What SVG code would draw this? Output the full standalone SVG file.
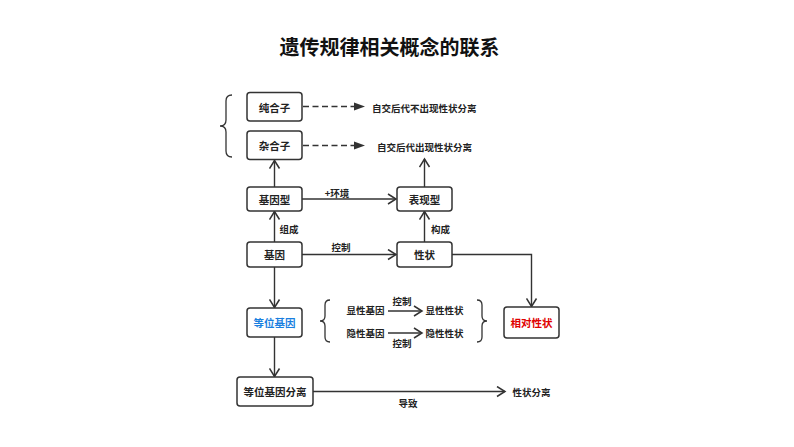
<svg xmlns="http://www.w3.org/2000/svg" width="794" height="447" viewBox="0 0 794 447">
<style>
text{font-family:"Noto Sans CJK SC","Liberation Sans",sans-serif;fill:#222;dominant-baseline:central;text-anchor:middle}
.t{font-size:20px;font-weight:bold;fill:#111}
.b{font-size:10.5px;font-weight:bold}
.s{font-size:9.5px;font-weight:bold}
.box{fill:#fff;stroke:#333;stroke-width:1.5}
.c{fill:none;stroke:#333;stroke-width:1.4}
.d{fill:none;stroke:#333;stroke-width:1.6;stroke-dasharray:6 3.5}
.br{fill:none;stroke:#333;stroke-width:1.3}
</style>
<defs>
<marker id="a" viewBox="-10 -6 12 12" refX="0" refY="0" markerWidth="12" markerHeight="12" markerUnits="userSpaceOnUse" orient="auto">
<path d="M-8,-5 L0,0 L-8,5" fill="none" stroke="#333" stroke-width="1.5"/>
</marker>
<marker id="f" viewBox="0 -5 12 10" refX="0" refY="0" markerWidth="12" markerHeight="10" markerUnits="userSpaceOnUse" orient="auto">
<path d="M0,-4 L11,0 L0,4 Z" fill="#333"/>
</marker>
</defs>
<text class="t" x="389.5" y="46">遗传规律相关概念的联系</text>
<g id="connectors">
<line class="d" x1="303" y1="106.5" x2="354" y2="106.5" marker-end="url(#f)"/>
<line class="d" x1="303" y1="145.5" x2="354" y2="145.5" marker-end="url(#f)"/>
<line class="c" x1="274.5" y1="187" x2="274.5" y2="160.5" marker-end="url(#a)"/>
<line class="c" x1="424.5" y1="187" x2="424.5" y2="159" marker-end="url(#a)"/>
<line class="c" x1="274.5" y1="242" x2="274.5" y2="211.5" marker-end="url(#a)"/>
<line class="c" x1="424.5" y1="242" x2="424.5" y2="211.5" marker-end="url(#a)"/>
<line class="c" x1="302" y1="199" x2="396" y2="199" marker-end="url(#a)"/>
<line class="c" x1="302" y1="254.5" x2="396" y2="254.5" marker-end="url(#a)"/>
<path class="c" d="M452,254.5 H531.5 V306.5" marker-end="url(#a)"/>
<line class="c" x1="274.5" y1="267" x2="274.5" y2="307.5" marker-end="url(#a)"/>
<line class="c" x1="274.5" y1="337" x2="274.5" y2="376.5" marker-end="url(#a)"/>
<line class="c" x1="313" y1="391.5" x2="505" y2="391.5" marker-end="url(#a)"/>
<line class="c" x1="388" y1="311" x2="422" y2="311" marker-end="url(#a)"/>
<line class="c" x1="388" y1="333" x2="422" y2="333" marker-end="url(#a)"/>
<text class="s" x="337" y="192.5">+环境</text>
<text class="s" x="341" y="247">控制</text>
<text class="s" x="289" y="229">组成</text>
<text class="s" x="440.5" y="229">构成</text>
<text class="s" x="402" y="301">控制</text>
<text class="s" x="402" y="343">控制</text>
<text class="s" x="408" y="403">导致</text>
</g>
<g id="brace-top"><path class="br" d="M232,95 Q226,95 226,101 L226,120 Q226,126 220,126 Q226,126 226,132 L226,151 Q226,157 232,157"/></g>
<g id="brace-left"><path class="br" d="M330,300 Q325,300 325,305 L325,316 Q325,321 320,321 Q325,321 325,326 L325,337 Q325,342 330,342"/></g>
<g id="brace-right"><path class="br" d="M477,300 Q482,300 482,305 L482,316 Q482,321 487,321 Q482,321 482,326 L482,337 Q482,342 477,342"/></g>
<g id="n-chunhezi"><rect class="box" x="247" y="92.5" width="55" height="28.5" rx="3"/><text class="b" x="274.5" y="107">纯合子</text></g>
<g id="n-zahezi"><rect class="box" x="247" y="131" width="55" height="28.5" rx="3"/><text class="b" x="274.5" y="145.5">杂合子</text></g>
<g id="t-1"><text class="s" x="372" y="107.5" style="text-anchor:start">自交后代不出现性状分离</text></g>
<g id="t-2"><text class="s" x="377" y="146.5" style="text-anchor:start">自交后代出现性状分离</text></g>
<g id="n-jiyinxing"><rect class="box" x="247" y="187" width="55" height="24" rx="3"/><text class="b" x="274.5" y="199">基因型</text></g>
<g id="n-biaoxianxing"><rect class="box" x="397" y="187" width="55" height="24" rx="3"/><text class="b" x="424.5" y="199">表现型</text></g>
<g id="n-jiyin"><rect class="box" x="247" y="242" width="55" height="25" rx="3"/><text class="b" x="274.5" y="254.5">基因</text></g>
<g id="n-xingzhuang"><rect class="box" x="397" y="242" width="55" height="25" rx="3"/><text class="b" x="424.5" y="254.5">性状</text></g>
<g id="n-dengweijiyin"><rect class="box" x="247" y="308" width="55" height="29" rx="3"/><text class="b" x="274.5" y="322.5" style="fill:#1a7fe0">等位基因</text></g>
<g id="n-pairs">
<text class="s" x="365.5" y="310">显性基因</text>
<text class="s" x="444.5" y="310">显性性状</text>
<text class="s" x="365.5" y="333">隐性基因</text>
<text class="s" x="444.5" y="333">隐性性状</text>
</g>
<g id="n-xiangdui"><rect class="box" x="504" y="307" width="55" height="31" rx="3"/><text class="b" x="531.5" y="322.5" style="fill:#e00000">相对性状</text></g>
<g id="n-fenli"><rect class="box" x="237" y="377" width="76" height="29" rx="3"/><text class="b" x="275" y="391.5">等位基因分离</text></g>
<g id="n-xingzhuangfenli"><text class="s" x="531.5" y="392">性状分离</text></g>
</svg>
